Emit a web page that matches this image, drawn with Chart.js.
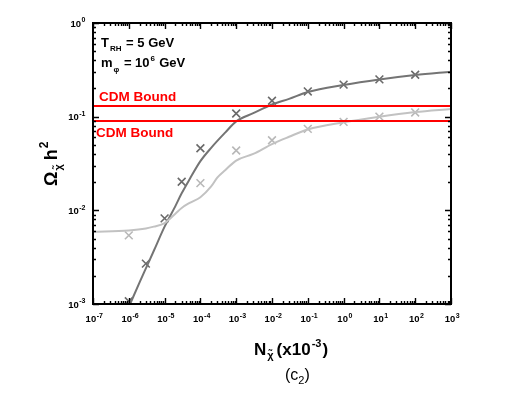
<!DOCTYPE html>
<html><head><meta charset="utf-8">
<script src="https://cdn.jsdelivr.net/npm/chart.js@4/dist/chart.umd.min.js"></script>
<style>html,body{margin:0;padding:0;background:#fff;}canvas{display:block;}</style>
</head><body>
<canvas id="c" width="526" height="393"></canvas>
<script>
// ---- data ----
const xTickExps = [-7,-6,-5,-4,-3,-2,-1,0,1,2,3];
const yTickExps = [-3,-2,-1,0];

const darkCurveX = [1e-6, 2e-6, 3e-6, 5e-6, 1e-5, 2e-5, 3e-5, 5e-5, 1e-4, 2e-4, 5e-4, 1e-3, 3e-3, 1e-2, 3e-2, 1e-1, 1, 10, 100, 1000];
const darkCurveY = [0.00093, 0.0017, 0.0024, 0.0037, 0.0067, 0.0111, 0.0152, 0.0215, 0.0335, 0.0465, 0.068, 0.089, 0.109, 0.135, 0.155, 0.183, 0.218, 0.25, 0.279, 0.302];

const lightCurveX = [1e-7, 1e-6, 3e-6, 5e-6, 1e-5, 2e-5, 3e-5, 5e-5, 1e-4, 2e-4, 3e-4, 5e-4, 1e-3, 3e-3, 1e-2, 3e-2, 1e-1, 1, 10, 100, 1000];
const lightCurveY = [0.0059, 0.0061, 0.0064, 0.0067, 0.0073, 0.0092, 0.0106, 0.012, 0.0138, 0.018, 0.0225, 0.027, 0.034, 0.040, 0.051, 0.061, 0.073, 0.087, 0.1, 0.112, 0.121];

const darkMarkX = [1e-6, 3e-6, 1e-5, 3e-5, 1e-4, 1e-3, 1e-2, 1e-1, 1, 10, 100];
const darkMarkY = [0.00107, 0.0027, 0.0082, 0.0202, 0.046, 0.108, 0.148, 0.186, 0.22, 0.25, 0.28];

const lightMarkX = [1e-6, 1e-4, 1e-3, 1e-2, 1e-1, 1, 10, 100];
const lightMarkY = [0.0054, 0.0195, 0.0435, 0.056, 0.074, 0.088, 0.1, 0.111];

const boundX = [1e-7, 1e3];
const upperBound = 0.13;
const lowerBound = 0.09;

const xMin = 1e-7, xMax = 1e3, yMin = 1e-3, yMax = 1;

const pts = (xs, ys) => xs.map((x, i) => ({x: x, y: ys[i]}));

const FONT = '"Liberation Sans", Arial, sans-serif';
const DARK = '#747474', DARKM = '#6a6a6a', LIGHT = '#c2c2c2', LIGHTM = '#b8b8b8';

function drawSup(ctx, base, exp, x, y, size, align) {
  ctx.font = 'bold ' + size + 'px ' + FONT;
  const wb = ctx.measureText(base).width;
  const es = Math.round(size * 0.7);
  ctx.font = 'bold ' + es + 'px ' + FONT;
  const we = ctx.measureText(exp).width;
  let x0 = x;
  if (align === 'right') x0 = x - wb - we;
  else if (align === 'center') x0 = x - (wb + we) / 2;
  ctx.textAlign = 'left';
  ctx.textBaseline = 'alphabetic';
  ctx.font = 'bold ' + size + 'px ' + FONT;
  ctx.fillText(base, x0, y);
  ctx.font = 'bold ' + es + 'px ' + FONT;
  ctx.fillText(exp, x0 + wb + 0.5, y - size * 0.45);
}

const framePlugin = {
  id: 'frame',
  afterDraw(chart) {
    const ctx = chart.ctx;
    const a = chart.chartArea;
    const xs = chart.scales.x, ys = chart.scales.y;
    ctx.save();
    ctx.strokeStyle = '#000';
    ctx.fillStyle = '#000';
    ctx.lineWidth = 1.4;
    ctx.beginPath();
    for (let e = -7; e <= 3; e++) {
      for (let m = 1; m <= 9; m++) {
        const v = m * Math.pow(10, e);
        if (v > xMax * 1.0001) continue;
        const px = Math.round(xs.getPixelForValue(v)) + 0.5;
        const len = m === 1 ? 6 : 3;
        ctx.moveTo(px, a.bottom); ctx.lineTo(px, a.bottom - len);
        ctx.moveTo(px, a.top); ctx.lineTo(px, a.top + len);
      }
    }
    for (let e = -3; e <= 0; e++) {
      for (let m = 1; m <= 9; m++) {
        const v = m * Math.pow(10, e);
        if (v > yMax * 1.0001) continue;
        const py = Math.round(ys.getPixelForValue(v)) + 0.5;
        const len = m === 1 ? 6 : 3;
        ctx.moveTo(a.left, py); ctx.lineTo(a.left + len, py);
        ctx.moveTo(a.right, py); ctx.lineTo(a.right - len, py);
      }
    }
    ctx.stroke();
    ctx.lineWidth = 2;
    ctx.strokeRect(a.left, a.top, a.right - a.left, a.bottom - a.top);

    xTickExps.forEach(e => {
      const px = xs.getPixelForValue(Math.pow(10, e));
      drawSup(ctx, '10', String(e), px + 1, a.bottom + 18, 9.5, 'center');
    });
    yTickExps.forEach(e => {
      const py = ys.getPixelForValue(Math.pow(10, e));
      drawSup(ctx, '10', String(e), a.left - 8, py + 3.5, 9.5, 'right');
    });

    ctx.textAlign = 'left';
    ctx.textBaseline = 'alphabetic';
    ctx.font = 'bold 13px ' + FONT;
    ctx.fillText('T', 101, 47);
    let w = ctx.measureText('T').width;
    ctx.font = 'bold 8px ' + FONT;
    ctx.fillText('RH', 101 + w + 1, 51);
    let w2 = ctx.measureText('RH').width;
    ctx.font = 'bold 13px ' + FONT;
    ctx.fillText(' = 5 GeV', 101 + w + w2 + 2, 47);

    ctx.fillText('m', 101, 67);
    w = ctx.measureText('m').width;
    ctx.font = 'bold 8px ' + FONT;
    ctx.fillText('\u03C6', 101 + w + 1, 72);
    w2 = ctx.measureText('\u03C6').width;
    ctx.font = 'bold 13px ' + FONT;
    const t1 = ' = 10';
    ctx.fillText(t1, 101 + w + w2 + 2, 67);
    const w3 = ctx.measureText(t1).width;
    ctx.font = 'bold 8px ' + FONT;
    ctx.fillText('6', 101 + w + w2 + 2 + w3 + 1, 61);
    ctx.font = 'bold 13px ' + FONT;
    ctx.fillText(' GeV', 101 + w + w2 + 2 + w3 + 6, 67);

    ctx.fillStyle = '#ff0000';
    ctx.font = 'bold 13.5px ' + FONT;
    ctx.fillText('CDM Bound', 99, 101);
    ctx.fillText('CDM Bound', 96, 137);

    ctx.fillStyle = '#000';
    let x = 254, y = 355;
    ctx.font = 'bold 17px ' + FONT;
    ctx.fillText('N', x, y); x += ctx.measureText('N').width + 1;
    ctx.font = 'bold 11px ' + FONT;
    ctx.fillText('\u03C7\u0303', x, y + 4); x += ctx.measureText('\u03C7').width + 3;
    ctx.font = 'bold 17px ' + FONT;
    ctx.fillText('(x10', x, y); x += ctx.measureText('(x10').width + 1;
    ctx.font = 'bold 11px ' + FONT;
    ctx.fillText('-3', x, y - 8); x += ctx.measureText('-3').width + 1;
    ctx.font = 'bold 17px ' + FONT;
    ctx.fillText(')', x, y);

    x = 285; y = 380;
    ctx.font = '16px ' + FONT;
    ctx.fillText('(c', x, y); x += ctx.measureText('(c').width;
    ctx.font = '11px ' + FONT;
    ctx.fillText('2', x, y + 4); x += ctx.measureText('2').width;
    ctx.font = '16px ' + FONT;
    ctx.fillText(')', x, y);

    ctx.save();
    ctx.translate(57, 186);
    ctx.rotate(-Math.PI / 2);
    x = 0; y = 0;
    ctx.font = 'bold 18px ' + FONT;
    ctx.fillText('\u03A9', x, y); x += ctx.measureText('\u03A9').width + 1;
    ctx.font = 'bold 11px ' + FONT;
    ctx.fillText('\u03C7\u0303', x, y + 5); x += ctx.measureText('\u03C7').width + 4;
    ctx.font = 'bold 18px ' + FONT;
    ctx.fillText('h', x, y); x += ctx.measureText('h').width + 1;
    ctx.font = 'bold 12px ' + FONT;
    ctx.fillText('2', x, y - 9);
    ctx.restore();

    ctx.restore();
  }
};

new Chart(document.getElementById('c'), {
  type: 'scatter',
  data: {
    datasets: [
      { label: 'upper', data: pts(boundX, [upperBound, upperBound]), showLine: true, borderColor: '#ff0000', borderWidth: 2, pointRadius: 0 },
      { label: 'lower', data: pts(boundX, [lowerBound, lowerBound]), showLine: true, borderColor: '#ff0000', borderWidth: 2, pointRadius: 0 },
      { label: 'light curve', data: pts(lightCurveX, lightCurveY), showLine: true, borderColor: LIGHT, borderWidth: 2, pointRadius: 0, cubicInterpolationMode: 'monotone' },
      { label: 'dark curve', data: pts(darkCurveX, darkCurveY), showLine: true, borderColor: DARK, borderWidth: 2, pointRadius: 0, cubicInterpolationMode: 'monotone' },
      { label: 'light marks', data: pts(lightMarkX, lightMarkY), showLine: false, pointStyle: 'crossRot', pointRadius: 5.5, borderColor: LIGHTM, pointBorderWidth: 1.6, borderWidth: 1.6 },
      { label: 'dark marks', data: pts(darkMarkX, darkMarkY), showLine: false, pointStyle: 'crossRot', pointRadius: 5.5, borderColor: DARKM, pointBorderWidth: 1.6, borderWidth: 1.6 }
    ]
  },
  options: {
    responsive: false,
    animation: false,
    events: [],
    layout: { padding: { left: 85, top: 23, right: 75, bottom: 81 } },
    plugins: { legend: { display: false }, tooltip: { enabled: false } },
    scales: {
      x: { type: 'logarithmic', min: xMin, max: xMax, ticks: { display: false }, grid: { display: false }, border: { display: false }, title: { display: false } },
      y: { type: 'logarithmic', min: yMin, max: yMax, ticks: { display: false }, grid: { display: false }, border: { display: false }, title: { display: false } }
    }
  },
  plugins: [framePlugin]
});
</script>
</body></html>
